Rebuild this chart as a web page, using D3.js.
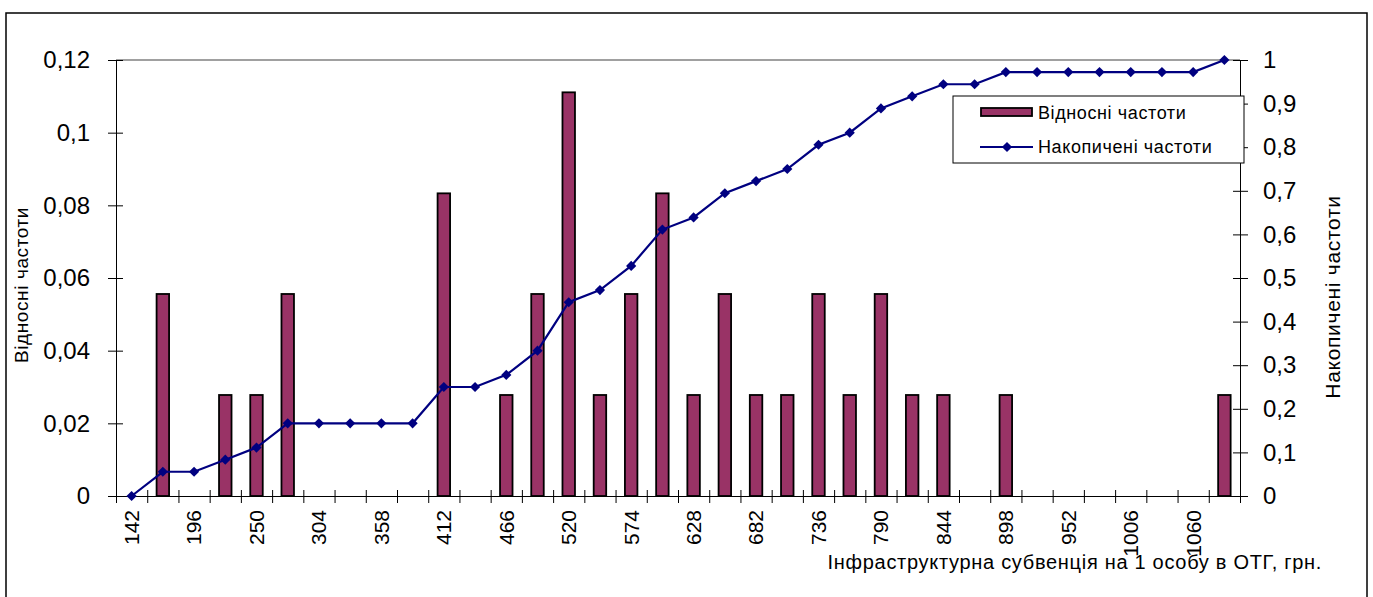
<!DOCTYPE html>
<html>
<head>
<meta charset="utf-8">
<script src="https://cdn.jsdelivr.net/npm/d3@7"></script>
<style>
  body { margin: 0; background: #fff; }
  svg text { font-family: "Liberation Sans", Arial, sans-serif; fill: #000; }
</style>
</head>
<body>
<script>
// categories (grn per person), step 27
const categories = [142, 169, 196, 223, 250, 277, 304, 331, 358, 385, 412, 439, 466, 493, 520, 547, 574, 601,
                    628, 655, 682, 709, 736, 763, 790, 817, 844, 871, 898, 925, 952, 979, 1006, 1033, 1060, 1087];
// relative frequencies (bars, left axis)
const relFreq = [0, 0.0556, 0, 0.0278, 0.0278, 0.0556, 0, 0, 0, 0, 0.0833, 0, 0.0278, 0.0556, 0.1111, 0.0278, 0.0556, 0.0833,
                 0.0278, 0.0556, 0.0278, 0.0278, 0.0556, 0.0278, 0.0556, 0.0278, 0.0278, 0, 0.0278, 0, 0, 0, 0, 0, 0, 0.0278];
// cumulative frequencies (line, right axis)
const cumFreq = [0, 0.0556, 0.0556, 0.0833, 0.1111, 0.1667, 0.1667, 0.1667, 0.1667, 0.1667, 0.25, 0.25, 0.2778, 0.3333, 0.4444, 0.4722, 0.5278, 0.6111,
                 0.6389, 0.6944, 0.7222, 0.75, 0.8056, 0.8333, 0.8889, 0.9167, 0.9444, 0.9444, 0.9722, 0.9722, 0.9722, 0.9722, 0.9722, 0.9722, 0.9722, 1];
// tick values
const leftTicks = [0, 0.02, 0.04, 0.06, 0.08, 0.1, 0.12];
const rightTicks = [0, 0.1, 0.2, 0.3, 0.4, 0.5, 0.6, 0.7, 0.8, 0.9, 1];
const xLabelCats = [142, 196, 250, 304, 358, 412, 466, 520, 574, 628, 682, 736, 790, 844, 898, 952, 1006, 1060];

const w = 1373, h = 597;
const padL = 116, padR = 1240, padT = 60, padB = 496;
const barColor = "#993366", lineColor = "#000080";

const locale = d3.formatLocale({decimal: ",", thousands: " ", grouping: [3], currency: ["", ""]});
const fmt = locale.format("~g");

const svg = d3.select("body").append("svg")
    .attr("width", w)
    .attr("height", h);

// outer chart border
svg.append("rect")
    .attr("x", 6).attr("y", 13)
    .attr("width", 1361).attr("height", 600)
    .attr("fill", "none")
    .attr("stroke", "#000")
    .attr("stroke-width", 1.5);

const x = d3.scaleBand().domain(categories).range([padL, padR]);
const xEdge = d3.scaleLinear().domain([0, categories.length]).range([padL, padR]);
const yL = d3.scaleLinear().domain([0, 0.12]).range([padB, padT]);
const yR = d3.scaleLinear().domain([0, 1]).range([padB, padT]);

// plot area top border (grey)
svg.append("line")
    .attr("x1", padL).attr("x2", padR)
    .attr("y1", yL(0.12)).attr("y2", yL(0.12))
    .attr("stroke", "#808080")
    .attr("stroke-width", 1.5);

// bars
const barW = x.bandwidth() * 0.4;
svg.selectAll("rect.bar")
    .data(categories.map((c, i) => ({c: c, v: relFreq[i]})).filter(d => d.v > 0))
    .enter()
    .append("rect")
    .attr("class", "bar")
    .attr("x", d => x(d.c) + (x.bandwidth() - barW) / 2)
    .attr("y", d => yL(d.v))
    .attr("width", barW)
    .attr("height", d => yL(0) - yL(d.v))
    .attr("fill", barColor)
    .attr("stroke", "#000")
    .attr("stroke-width", 1.8);

// left axis
const yAxisL = svg.append("g")
    .attr("transform", "translate(" + padL + ",0)")
    .call(d3.axisLeft(yL).tickValues(leftTicks).tickFormat(fmt).tickSizeOuter(0).tickSizeInner(8).tickPadding(18));
yAxisL.selectAll(".tick line").attr("x1", 7);
yAxisL.selectAll("text").style("font-size", "24px");

// right axis
const yAxisR = svg.append("g")
    .attr("transform", "translate(" + padR + ",0)")
    .call(d3.axisRight(yR).tickValues(rightTicks).tickFormat(fmt).tickSizeOuter(0).tickSizeInner(8).tickPadding(15));
yAxisR.selectAll(".tick line").attr("x1", -7);
yAxisR.selectAll("text").style("font-size", "24px");

// x axis: boundary ticks
const xAxisEdge = svg.append("g")
    .attr("transform", "translate(0," + padB + ")")
    .call(d3.axisBottom(xEdge).tickValues(d3.range(categories.length + 1)).tickFormat("").tickSizeOuter(0).tickSizeInner(7));
xAxisEdge.selectAll(".tick line").attr("y1", -6);

// x axis: labels (rotated)
const xAxisLab = svg.append("g")
    .attr("transform", "translate(0," + padB + ")")
    .call(d3.axisBottom(x).tickValues(xLabelCats).tickSize(0));
xAxisLab.select(".domain").remove();
xAxisLab.selectAll("text")
    .style("font-size", "21px")
    .attr("text-anchor", "end")
    .attr("transform", "rotate(-90)")
    .attr("x", -14)
    .attr("y", 0)
    .attr("dy", "0.35em");

svg.selectAll(".domain").attr("stroke", "#000");

// cumulative line
svg.append("path")
    .datum(cumFreq)
    .attr("fill", "none")
    .attr("stroke", lineColor)
    .attr("stroke-width", 2.2)
    .attr("d", d3.line()
        .x((d, i) => x(categories[i]) + x.bandwidth() / 2)
        .y(d => yR(d)));

const diamond = d3.symbol(d3.symbolSquare, 52);
svg.selectAll("path.marker")
    .data(cumFreq)
    .enter()
    .append("path")
    .attr("class", "marker")
    .attr("d", diamond)
    .attr("transform", (d, i) => "translate(" + (x(categories[i]) + x.bandwidth() / 2) + "," + yR(d) + ") rotate(45)")
    .attr("fill", lineColor);

// axis titles
svg.append("text")
    .attr("transform", "translate(28,285) rotate(-90)")
    .attr("text-anchor", "middle")
    .style("font-size", "19px")
    .style("letter-spacing", "0.6px")
    .text("Відносні частоти");

svg.append("text")
    .attr("transform", "translate(1340,297) rotate(-90)")
    .attr("text-anchor", "middle")
    .style("font-size", "21px")
    .style("letter-spacing", "0.7px")
    .text("Накопичені частоти");

svg.append("text")
    .attr("x", 1322).attr("y", 569)
    .attr("text-anchor", "end")
    .style("font-size", "20px")
    .style("letter-spacing", "0.7px")
    .text("Інфраструктурна субвенція на 1 особу в ОТГ, грн.");

// legend
const lg = svg.append("g").attr("transform", "translate(953,96)");
lg.append("rect")
    .attr("width", 291).attr("height", 67)
    .attr("fill", "#fff")
    .attr("stroke", "#000")
    .attr("stroke-width", 1);
lg.append("rect")
    .attr("x", 28).attr("y", 12)
    .attr("width", 51).attr("height", 8)
    .attr("fill", barColor)
    .attr("stroke", "#000")
    .attr("stroke-width", 1.8);
lg.append("text")
    .attr("x", 85).attr("y", 17)
    .attr("dy", "0.35em")
    .style("font-size", "18px")
    .style("letter-spacing", "0.6px")
    .text("Відносні частоти");
lg.append("line")
    .attr("x1", 27).attr("x2", 80)
    .attr("y1", 51).attr("y2", 51)
    .attr("stroke", lineColor)
    .attr("stroke-width", 2.2);
lg.append("path")
    .attr("d", diamond)
    .attr("transform", "translate(54,51) rotate(45)")
    .attr("fill", lineColor);
lg.append("text")
    .attr("x", 85).attr("y", 51)
    .attr("dy", "0.35em")
    .style("font-size", "18px")
    .style("letter-spacing", "0.6px")
    .text("Накопичені частоти");
</script>
</body>
</html>
